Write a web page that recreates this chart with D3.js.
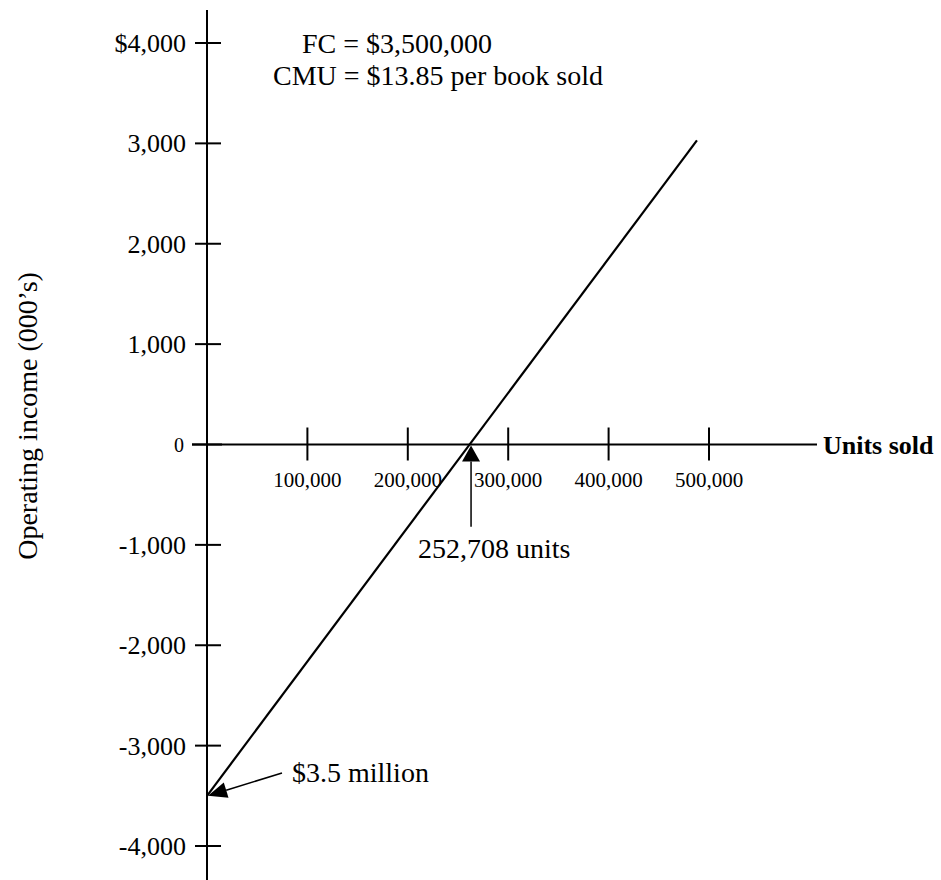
<!DOCTYPE html>
<html>
<head>
<meta charset="utf-8">
<script src="https://cdn.jsdelivr.net/npm/d3@7"></script>
<style>
html,body{margin:0;padding:0;background:#fff;}
svg{display:block;}
</style>
</head>
<body>
<svg id="chart" width="941" height="880"></svg>
<script>
// ---- data ----
const yTickValues = [4000, 3000, 2000, 1000, 0, -1000, -2000, -3000, -4000];
const yTickLabels = ["$4,000", "3,000", "2,000", "1,000", "0", "-1,000", "-2,000", "-3,000", "-4,000"];
const xTickValues = [100000, 200000, 300000, 400000, 500000];
const xTickLabels = ["100,000", "200,000", "300,000", "400,000", "500,000"];
const lineUnits = [0, 488000];
const lineIncome = [-3500, 3030];
const breakevenArrow = {units: 263000, from: -820, to: 0, label: "252,708 units"};
const fcArrow = {fromUnits: 74700, fromIncome: -3273, toUnits: 0, toIncome: -3500, label: "$3.5 million"};
const notes = ["FC = $3,500,000", "CMU = $13.85 per book sold"];
const xAxisTitle = "Units sold";
const yAxisTitle = "Operating income (000\u2019s)";

const FONT = "'Liberation Serif', 'Times New Roman', 'DejaVu Serif', serif";

// ---- scales ----
const svg = d3.select("#chart");
const x = d3.scaleLinear().domain([0, 500000]).range([207, 709]);
const y = d3.scaleLinear().domain([-4000, 4000]).range([846, 43]);

function txt(xp, yp, size, s) {
  return svg.append("text").attr("x", xp).attr("y", yp)
    .attr("font-family", FONT).attr("font-size", size).attr("fill", "#000").text(s);
}

// y axis line
svg.append("line").attr("x1", x(0)).attr("x2", x(0)).attr("y1", 10).attr("y2", 880)
  .attr("stroke", "#000").attr("stroke-width", 2);
// x axis line
svg.append("line").attr("x1", 192).attr("x2", 817).attr("y1", y(0)).attr("y2", y(0))
  .attr("stroke", "#000").attr("stroke-width", 2);

// y ticks
yTickValues.forEach((v, i) => {
  svg.append("line").attr("x1", v === 0 ? 192 : 195).attr("x2", v === 0 ? 222 : 221)
    .attr("y1", y(v)).attr("y2", y(v)).attr("stroke", "#000").attr("stroke-width", 2);
  txt(v === 0 ? 184 : 186, y(v), v === 0 ? 20 : 26, yTickLabels[i])
    .attr("dy", "0.35em").attr("text-anchor", "end");
});

// x ticks
xTickValues.forEach((v, i) => {
  svg.append("line").attr("x1", x(v)).attr("x2", x(v))
    .attr("y1", y(0) - 17).attr("y2", y(0) + 16).attr("stroke", "#000").attr("stroke-width", 2);
  txt(x(v), 487, 21, xTickLabels[i]).attr("text-anchor", "middle");
});

// main line
const pts = lineUnits.map((u, i) => [u, lineIncome[i]]);
svg.append("path").datum(pts)
  .attr("d", d3.line().x(d => x(d[0])).y(d => y(d[1])))
  .attr("fill", "none").attr("stroke", "#000").attr("stroke-width", 2.2);

// arrow helper
function arrow(x1, y1, x2, y2, len, half) {
  const dx = x2 - x1, dy = y2 - y1, L = Math.hypot(dx, dy);
  const ux = dx / L, uy = dy / L;
  const bx = x2 - ux * len, by = y2 - uy * len;
  svg.append("line").attr("x1", x1).attr("y1", y1).attr("x2", bx).attr("y2", by)
    .attr("stroke", "#000").attr("stroke-width", 1.5);
  svg.append("path")
    .attr("d", `M${x2},${y2}L${bx - uy * half},${by + ux * half}L${bx + uy * half},${by - ux * half}Z`)
    .attr("fill", "#000");
}

// breakeven arrow
arrow(x(breakevenArrow.units), y(breakevenArrow.from), x(breakevenArrow.units), y(breakevenArrow.to) + 1, 16, 9);
txt(418, 558, 28, breakevenArrow.label);

// fixed cost arrow
arrow(x(fcArrow.fromUnits), y(fcArrow.fromIncome), x(fcArrow.toUnits) + 1, y(fcArrow.toIncome), 19, 8);
txt(292, 782, 28, fcArrow.label);

// notes
txt(302, 53, 28, notes[0]);
txt(273, 85, 28, notes[1]);

// axis titles
txt(823, y(0), 26, xAxisTitle).attr("dy", "0.35em").attr("font-weight", "bold");
svg.append("text").attr("transform", "translate(37,416) rotate(-90)")
  .attr("font-family", FONT).attr("font-size", 28).attr("fill", "#000")
  .attr("text-anchor", "middle").text(yAxisTitle);
</script>
</body>
</html>
